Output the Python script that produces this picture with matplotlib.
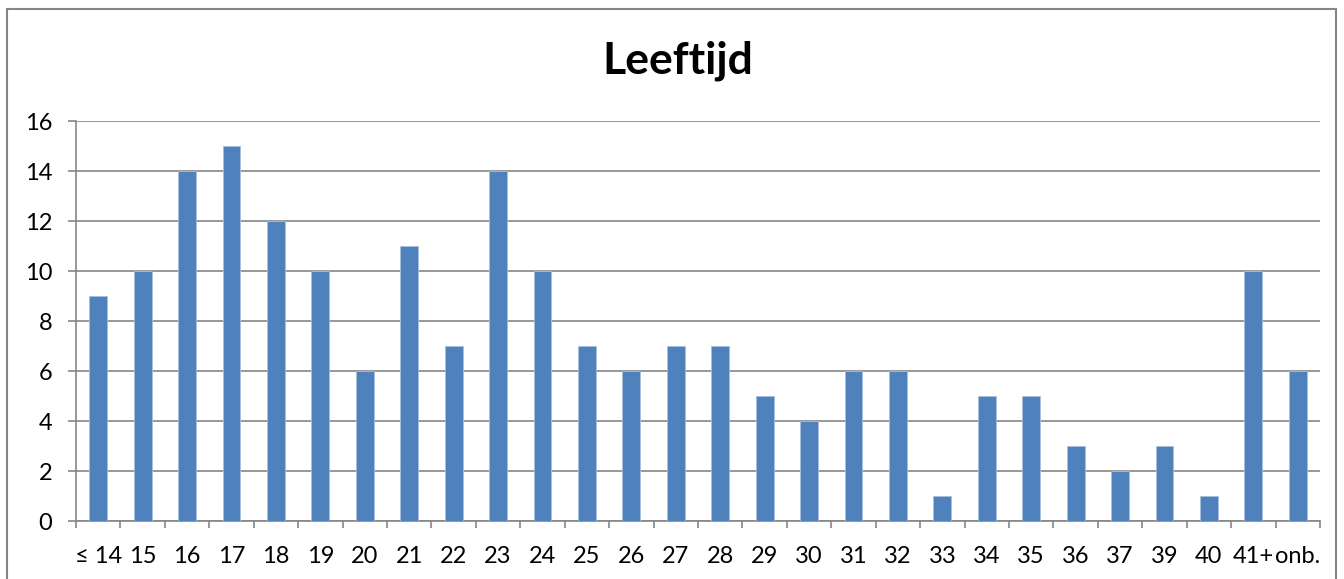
import matplotlib
matplotlib.use("Agg")
import matplotlib.pyplot as plt
from matplotlib.patches import Rectangle

# Leeftijdsverdeling
categorieen = ['≤ 14', '15', '16', '17', '18', '19', '20', '21', '22', '23',
               '24', '25', '26', '27', '28', '29', '30', '31', '32', '33',
               '34', '35', '36', '37', '39', '40', '41+', 'onb.']
aantallen = [9, 10, 14, 15, 12, 10, 6, 11, 7, 14,
             10, 7, 6, 7, 7, 5, 4, 6, 6, 1,
             5, 5, 3, 2, 3, 1, 10, 6]
y_ticks = [0, 2, 4, 6, 8, 10, 12, 14, 16]

plt.rcParams['font.family'] = ['Lato', 'DejaVu Sans']

W, H = 1344, 579
fig = plt.figure(figsize=(W / 100, H / 100), dpi=100)
ax = fig.add_axes([76 / W, 1 - 521 / H, (1320 - 76) / W, (521 - 121) / H])

grijs = '#868686'
x = list(range(len(categorieen)))
ax.bar(x, aantallen, width=0.4, color='#4F81BD', edgecolor='#A7C0DE',
       linewidth=0.6, zorder=3)

ax.set_xlim(-0.5, len(categorieen) - 0.5)
ax.set_ylim(0, 16)
ax.set_yticks(y_ticks)
ax.yaxis.grid(True, color=grijs, linewidth=1.2, zorder=0)
ax.tick_params(axis='y', length=6, width=1.2, color=grijs, labelsize=17, pad=11)

# streepjes tussen de categorieen, labels onder de staven
ax.set_xticks([i - 0.5 for i in range(len(categorieen) + 1)])
ax.set_xticklabels([])
ax.set_xticks(x, minor=True)
ax.set_xticklabels(categorieen, minor=True)
ax.tick_params(axis='x', which='major', length=5, width=1.2, color=grijs)
ax.tick_params(axis='x', which='minor', length=0, labelsize=17, pad=18)

for s in ['top', 'right']:
    ax.spines[s].set_visible(False)
for s in ['left', 'bottom']:
    ax.spines[s].set_color(grijs)
    ax.spines[s].set_linewidth(1.2)

fig.text(678 / W, 1 - 74 / H, 'Leeftijd', ha='center', va='baseline',
         fontsize=32, fontweight='bold')

# rand om de grafiek
fig.patches.append(Rectangle((7 / W, -0.05), (1336 - 7) / W, 1.05 - 9 / H,
                             transform=fig.transFigure, fill=False,
                             edgecolor=grijs, linewidth=1.5))

fig.savefig('out.png', dpi=100)
